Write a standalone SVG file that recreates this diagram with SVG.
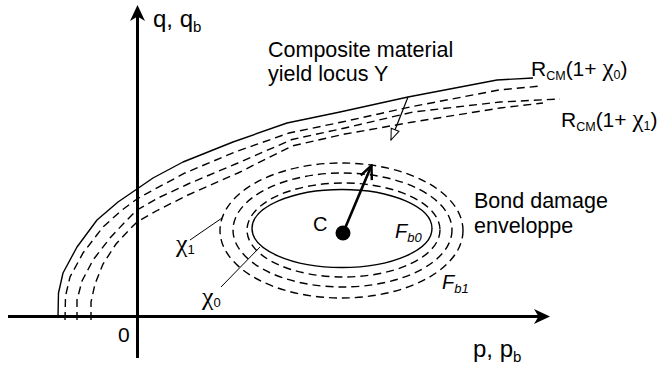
<svg xmlns="http://www.w3.org/2000/svg" width="659" height="371" viewBox="0 0 659 371">
<defs>
<style>
.t{font-family:"Liberation Sans",Arial,sans-serif;fill:#000}
.chi{font-family:"Liberation Serif","DejaVu Serif",serif}
.solid{fill:none;stroke:#000;stroke-width:1.4;stroke-linejoin:round}
.dash{fill:none;stroke:#000;stroke-width:1.4;stroke-dasharray:8 5}
.axis{fill:none;stroke:#000;stroke-width:3}
.lead{fill:none;stroke:#000;stroke-width:1}
</style>
<marker id="vhead" viewBox="0 0 12 12" refX="11" refY="6" markerWidth="16" markerHeight="16" markerUnits="userSpaceOnUse" orient="auto">
<path d="M1,1.5 L11,6 L1,10.5" fill="none" stroke="#000" stroke-width="1.8"/>
</marker>
<marker id="thead" viewBox="0 0 14 12" refX="13" refY="6" markerWidth="13" markerHeight="11" markerUnits="userSpaceOnUse" orient="auto">
<path d="M1,1.5 L13,6 L1,10.5 Z" fill="#fff" stroke="#000" stroke-width="1.1"/>
</marker>
</defs>
<rect width="659" height="371" fill="#fff"/>

<g id="axes">
<line class="axis" x1="8" y1="316.5" x2="542" y2="316.5"/>
<path d="M550,316.5 L534,309 L538.5,316.5 L534,324 Z" fill="#000"/>
<line class="axis" x1="137.5" y1="358" x2="137.5" y2="14"/>
<path d="M137.5,5 L130,21 L137.5,16.5 L145,21 Z" fill="#000"/>
<text class="t" x="153" y="27" font-size="24">q, q<tspan font-size="15" dy="5">b</tspan></text>
<text class="t" x="473" y="357" font-size="24">p, p<tspan font-size="15" dy="5">b</tspan></text>
<text class="t" x="118" y="342" font-size="21">0</text>
</g>

<g id="yield-locus">
<path class="solid" d="M58,316 L58.5,293 L63,273 L77,247 L97,220 L118,202 L137,189 L153,178 L183,162 L233,142 L287,123 L340,112 L408,97 L497,80 L533,78"/>
<path class="dash" d="M65,320 L65.5,296 L70,277 L83,253 L103,227 L122,210 L137,199 L155,189 L185,173 L235,152 L289,133 L342,122 L410,107 L499,90 L541,86"/>
<path class="dash" d="M77,320 L77,300 L82,281 L93,260 L110,238 L125,222 L137,210 L158,198 L188,184 L238,163 L292,139.5 L345,128 L413,112 L500,102 L560,99"/>
<path class="dash" d="M91,320 L91,302 L95,284 L103,264 L116,244 L130,229 L137,222 L158,210 L188,195 L238,173 L292,146 L345,134 L413,122 L500,108 L543,103"/>
<text class="t" x="268" y="57" font-size="21.5">Composite material</text>
<text class="t" x="268" y="81" font-size="21.5">yield locus Y</text>
<text class="t" x="531" y="76" font-size="21">R<tspan font-size="12.5" dy="4">CM</tspan><tspan dy="-4">(1+ </tspan><tspan class="chi" font-size="25">χ</tspan><tspan font-size="12.5" dy="3">0</tspan><tspan dy="-3">)</tspan></text>
<text class="t" x="561" y="127" font-size="21">R<tspan font-size="12.5" dy="4">CM</tspan><tspan dy="-4">(1+ </tspan><tspan class="chi" font-size="25">χ</tspan><tspan font-size="12.5" dy="3">1</tspan><tspan dy="-3">)</tspan></text>
</g>

<g id="bond-damage">
<ellipse class="solid" cx="342" cy="228.5" rx="90" ry="39"/>
<ellipse class="dash" cx="343.5" cy="230" rx="96.5" ry="47"/>
<ellipse class="dash" cx="342.5" cy="230" rx="109.5" ry="57"/>
<ellipse class="dash" cx="341.5" cy="230.5" rx="121.5" ry="67.5"/>
<text class="t" x="474" y="208" font-size="21.5">Bond damage</text>
<text class="t" x="474" y="233" font-size="21.5">enveloppe</text>
<text class="t" x="395" y="238" font-size="20" font-style="italic">F<tspan font-size="13" dy="4">b0</tspan></text>
<text class="t" x="442" y="289" font-size="20" font-style="italic">F<tspan font-size="13" dy="4">b1</tspan></text>
</g>

<g id="center-C">
<circle cx="343" cy="233" r="7.5" fill="#000"/>
<text class="t" x="313" y="231" font-size="20">C</text>
</g>

<g id="chi-labels">
<text class="t" x="176" y="252" font-size="22"><tspan class="chi" font-size="26">χ</tspan><tspan font-size="13" dy="2">1</tspan></text>
<text class="t" x="202" y="305" font-size="22"><tspan class="chi" font-size="26">χ</tspan><tspan font-size="13" dy="2">0</tspan></text>
</g>

<g id="connectors">
<line class="lead" x1="190" y1="240" x2="222" y2="218"/>
<line class="lead" x1="221" y1="287" x2="260" y2="247"/>
<line x1="343" y1="233" x2="371.5" y2="165.5" stroke="#000" stroke-width="2.6" marker-end="url(#vhead)"/>
<line x1="408" y1="97" x2="391" y2="140" stroke="#000" stroke-width="1.2" marker-end="url(#thead)"/>
</g>
</svg>
